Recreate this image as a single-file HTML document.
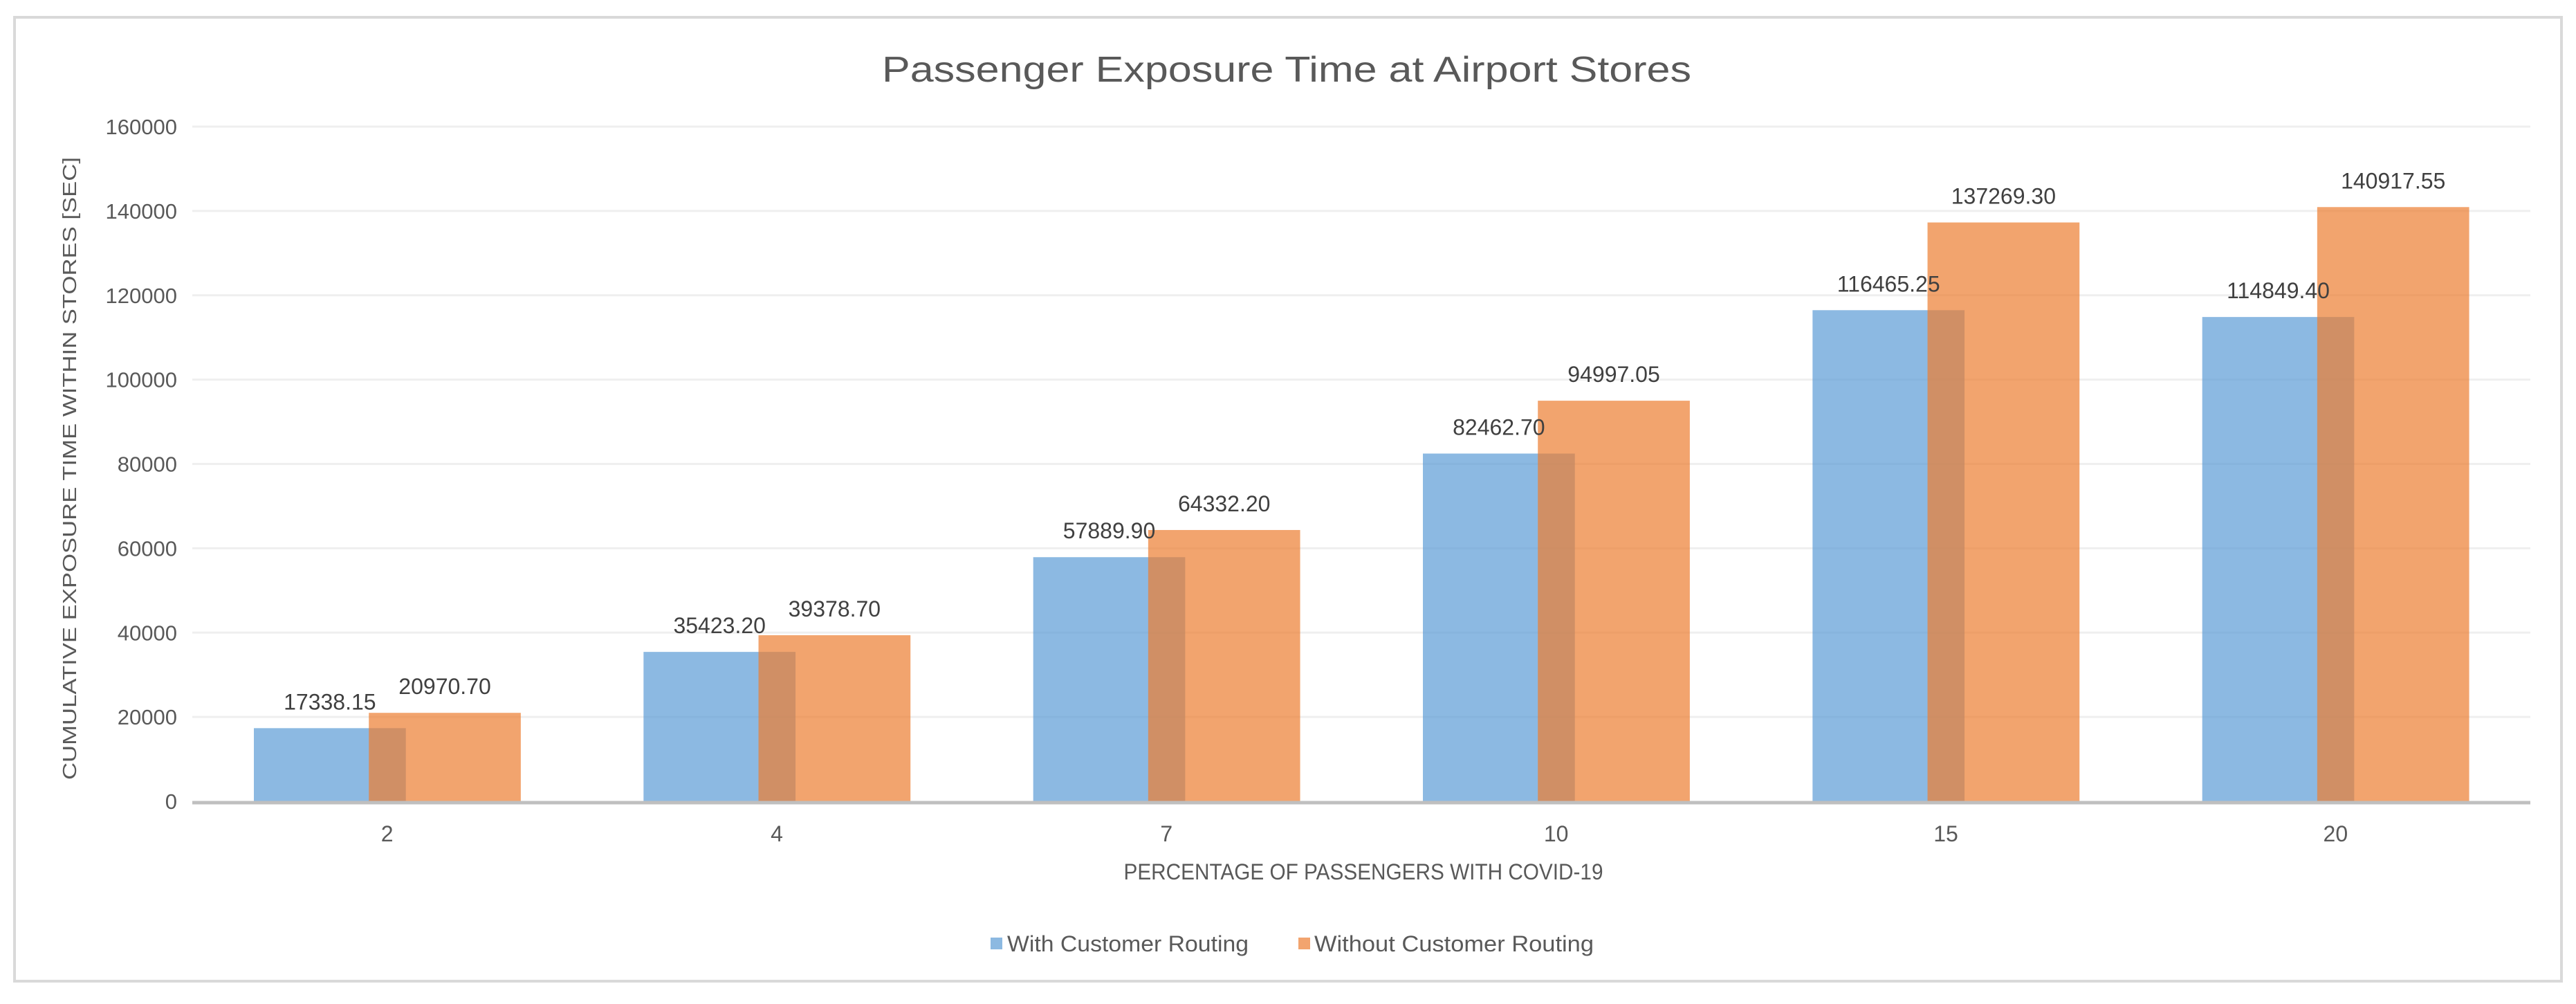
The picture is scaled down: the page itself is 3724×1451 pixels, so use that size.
<!DOCTYPE html>
<html><head><meta charset="utf-8"><style>
html,body{margin:0;padding:0;background:#fff;}
svg{display:block;}
text{font-family:"Liberation Sans",sans-serif;}
</style></head><body>
<svg id="chart" width="3724" height="1451" viewBox="0 0 3724 1451" xmlns="http://www.w3.org/2000/svg">
<rect x="21" y="25" width="3682" height="1393" fill="#fff" stroke="#d9d9d9" stroke-width="4"/>
<text x="1860" y="118" text-anchor="middle" font-size="52" fill="#595959" textLength="1170" lengthAdjust="spacingAndGlyphs">Passenger Exposure Time at Airport Stores</text>
<g id="grid"></g>
<g id="bars"></g>
<g id="labels"></g>
<text transform="translate(110,677) rotate(-90)" text-anchor="middle" font-size="28" fill="#595959" textLength="900" lengthAdjust="spacingAndGlyphs">CUMULATIVE EXPOSURE TIME WITHIN STORES [SEC]</text>
<text x="1971" y="1271" text-anchor="middle" font-size="32" fill="#595959" textLength="693" lengthAdjust="spacingAndGlyphs">PERCENTAGE OF PASSENGERS WITH COVID-19</text>
<g>
<rect x="1432" y="1355" width="17" height="17" fill="#8cb9e1"/>
<text x="1456" y="1375" font-size="32" fill="#595959" textLength="349" lengthAdjust="spacingAndGlyphs">With Customer Routing</text>
<rect x="1877" y="1355" width="17" height="17" fill="#f2a46f"/>
<text x="1900" y="1375" font-size="32" fill="#595959" textLength="404" lengthAdjust="spacingAndGlyphs">Without Customer Routing</text>
</g>
</svg>
<script>
const categories = ["2","4","7","10","15","20"];
const withRouting = [17338.15, 35423.20, 57889.90, 82462.70, 116465.25, 114849.40];
const withoutRouting = [20970.70, 39378.70, 64332.20, 94997.05, 137269.30, 140917.55];
const withLabels = ["17338.15","35423.20","57889.90","82462.70","116465.25","114849.40"];
const withoutLabels = ["20970.70","39378.70","64332.20","94997.05","137269.30","140917.55"];
const yTicks = [0,20000,40000,60000,80000,100000,120000,140000,160000];

const NS = "http://www.w3.org/2000/svg";
const plotL = 278, plotR = 3658, y0 = 1158, yTop = 183, yMax = 160000;
const band = (plotR - plotL) / categories.length;
function yScale(v){ return y0 - (v / yMax) * (y0 - yTop); }
function xCenter(i){ return plotL + (i + 0.5) * band; }
function mk(tag, attrs){ const e = document.createElementNS(NS, tag); for (const k in attrs) e.setAttribute(k, attrs[k]); return e; }

const grid = document.getElementById('grid');
yTicks.forEach(t => {
  const y = yScale(t);
  if (t !== 0) {
    const l = mk('line', {x1: plotL, x2: plotR, y1: y, y2: y, stroke: '#efefef', 'stroke-width': 3});
    
    
    grid.appendChild(l);
  }
  const tx = mk('text', {x: 256, y: y + 11, 'text-anchor': 'end', 'font-size': 31, fill: '#595959'});
  
  
  tx.textContent = String(t);
  grid.appendChild(tx);
});

const bars = document.getElementById('bars');
const labels = document.getElementById('labels');
const bw = band * 0.39;
categories.forEach((c, i) => {
  const cx = xCenter(i);
  const bx = cx - band * 0.342;
  const ox = cx - band * 0.047;
  const by = yScale(withRouting[i]);
  const b = mk('rect', {x: bx, y: by, width: bw, height: y0 - by, fill: '#5b9bd5', 'fill-opacity': 0.7});
  
  
  bars.appendChild(b);
  const oy = yScale(withoutRouting[i]);
  const o = mk('rect', {x: ox, y: oy, width: bw, height: y0 - oy, fill: '#ed7d31', 'fill-opacity': 0.7});
  
  
  bars.appendChild(o);

  const l1 = mk('text', {x: bx + bw / 2, y: by - 27, 'text-anchor': 'middle', 'font-size': 32, fill: '#404040'});
  
  
  l1.textContent = withLabels[i];
  labels.appendChild(l1);
  const l2 = mk('text', {x: ox + bw / 2, y: oy - 27, 'text-anchor': 'middle', 'font-size': 32, fill: '#404040'});
  
  
  l2.textContent = withoutLabels[i];
  labels.appendChild(l2);

  const xt = mk('text', {x: cx, y: 1216, 'text-anchor': 'middle', 'font-size': 32, fill: '#595959'});
  
  
  xt.textContent = c;
  labels.appendChild(xt);
});
const axis = mk('line', {x1: plotL, x2: plotR, y1: y0 + 2, y2: y0 + 2, stroke: '#bfbfbf', 'stroke-width': 5});


bars.appendChild(axis);
</script>
</body></html>
